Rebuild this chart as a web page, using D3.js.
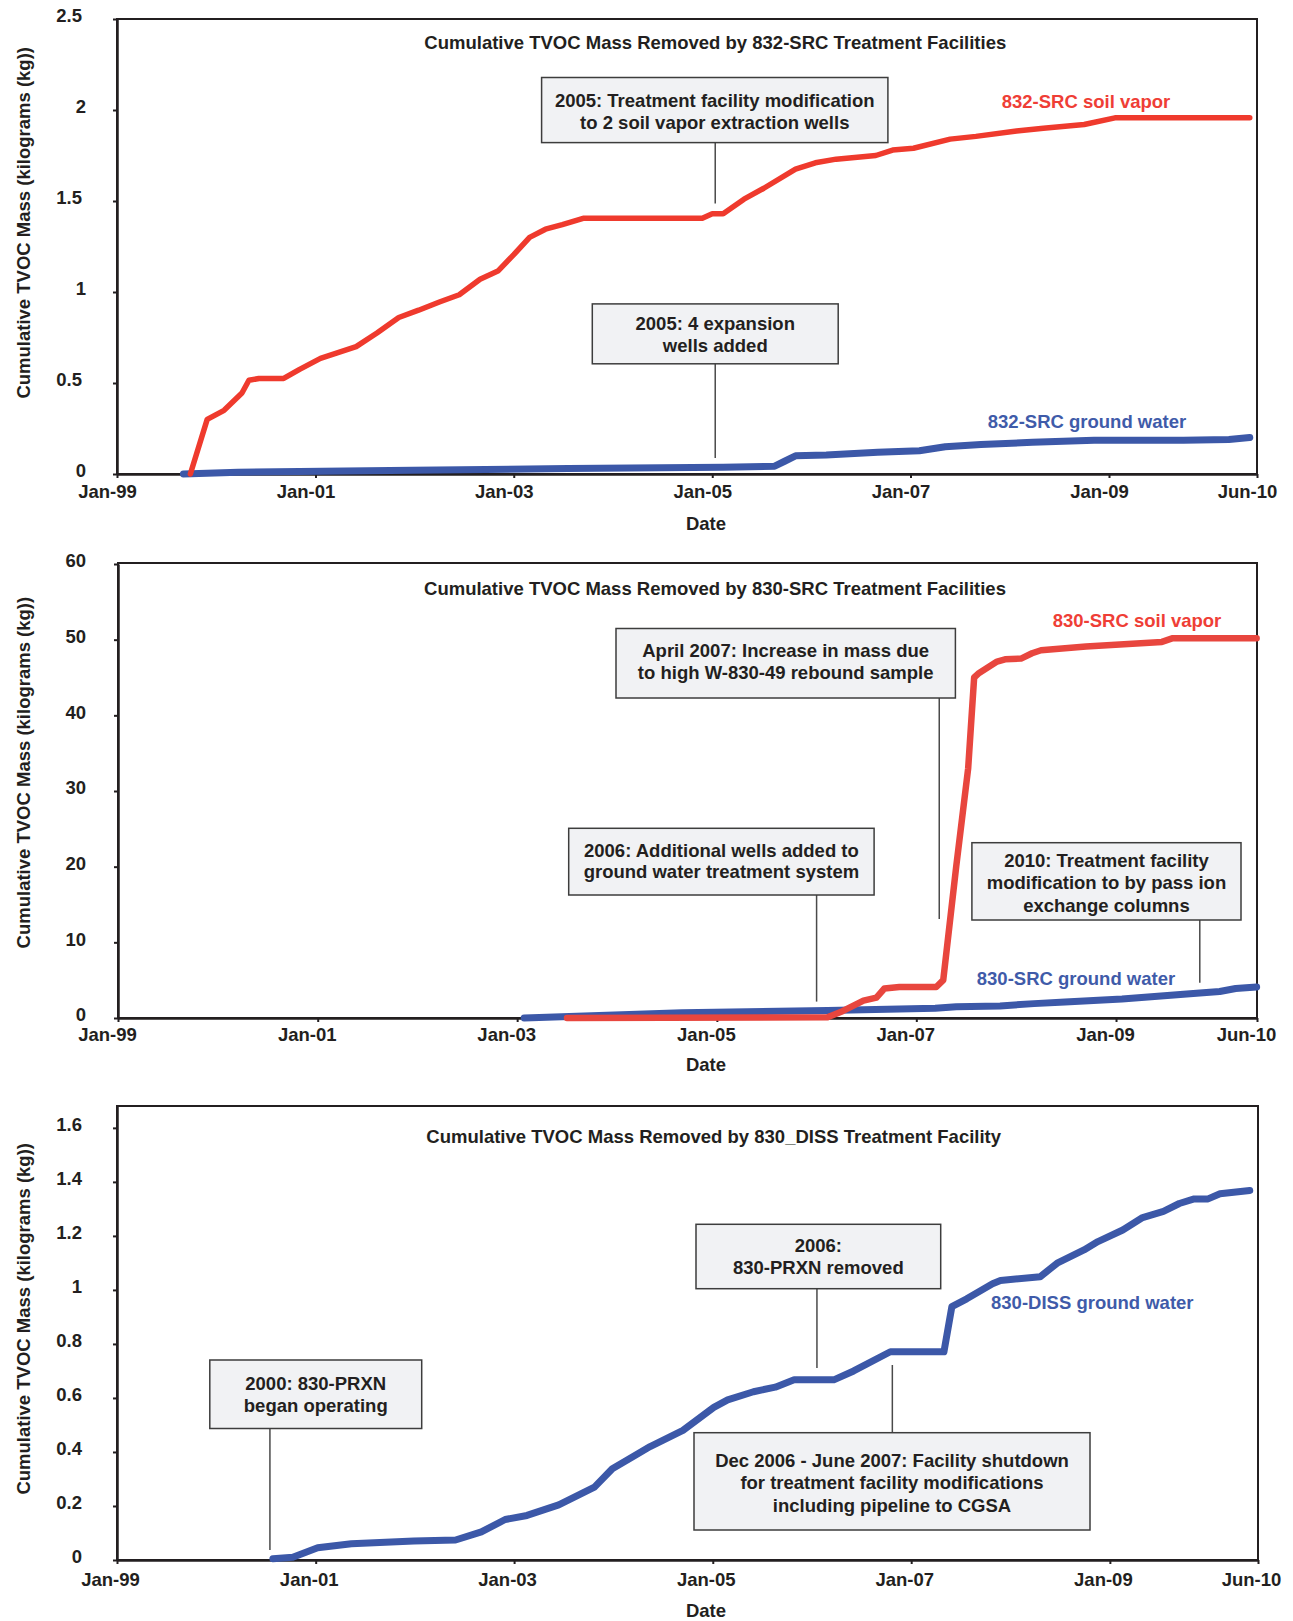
<!DOCTYPE html>
<html>
<head>
<meta charset="utf-8">
<script src="https://cdn.jsdelivr.net/npm/d3@7"></script>
<style>
  body { margin: 0; background: #fff; }
  svg { display: block; font-family: "Liberation Sans", Arial, Helvetica, sans-serif; font-weight: bold; }
</style>
</head>
<body>
<svg id="chart" width="1293" height="1621"></svg>
<script>
// ---------------------------------------------------------------
// Data: [decimal year, cumulative TVOC mass removed (kg)]
// ---------------------------------------------------------------
const soilVapor832 = [
  [1999.74, 0], [1999.91, 0.30], [2000.08, 0.35], [2000.26, 0.445], [2000.33, 0.515],
  [2000.43, 0.525], [2000.68, 0.525], [2000.84, 0.575], [2001.05, 0.635], [2001.41, 0.70],
  [2001.62, 0.775], [2001.84, 0.86], [2002.04, 0.90], [2002.25, 0.945], [2002.45, 0.985],
  [2002.66, 1.07], [2002.84, 1.115], [2003.00, 1.205], [2003.16, 1.30], [2003.32, 1.345],
  [2003.49, 1.37], [2003.70, 1.405], [2004.90, 1.405], [2005.00, 1.43], [2005.11, 1.43],
  [2005.32, 1.51], [2005.52, 1.57], [2005.84, 1.675], [2006.04, 1.71], [2006.25, 1.73],
  [2006.65, 1.75], [2006.82, 1.78], [2007.03, 1.79], [2007.40, 1.84], [2007.66, 1.855],
  [2008.07, 1.885], [2008.34, 1.90], [2008.75, 1.92], [2009.06, 1.957], [2010.42, 1.957]
];
const groundWater832 = [
  [1999.67, 0], [2000.22, 0.01], [2001.98, 0.02], [2003.55, 0.03], [2005.11, 0.037],
  [2005.63, 0.043], [2005.73, 0.07], [2005.84, 0.10], [2006.15, 0.105], [2006.67, 0.12],
  [2007.09, 0.128], [2007.35, 0.15], [2007.71, 0.162], [2008.23, 0.174], [2008.85, 0.185],
  [2009.75, 0.186], [2010.21, 0.19], [2010.42, 0.20]
];
const soilVapor830 = [
  [2003.50, 0], [2006.11, 0.1], [2006.26, 0.9], [2006.47, 2.3], [2006.60, 2.7],
  [2006.68, 3.9], [2006.83, 4.1], [2007.20, 4.1], [2007.27, 5.0], [2007.40, 20],
  [2007.52, 33], [2007.58, 45.0], [2007.63, 45.6], [2007.81, 47.1], [2007.89, 47.4],
  [2008.05, 47.5], [2008.16, 48.2], [2008.25, 48.6], [2008.70, 49.1], [2009.46, 49.7],
  [2009.57, 50.2], [2010.41, 50.2]
];
const groundWater830 = [
  [2003.07, 0], [2004.65, 0.7], [2006.11, 1.0], [2007.19, 1.3], [2007.40, 1.5],
  [2007.84, 1.6], [2008.18, 1.9], [2008.49, 2.1], [2009.06, 2.5], [2009.84, 3.3],
  [2010.04, 3.5], [2010.20, 3.9], [2010.41, 4.1]
];
const groundWaterDiss = [
  [2000.57, 0.005], [2000.77, 0.01], [2001.02, 0.045], [2001.36, 0.06], [2001.99, 0.07],
  [2002.41, 0.074], [2002.67, 0.104], [2002.91, 0.15], [2003.13, 0.165], [2003.45, 0.204],
  [2003.81, 0.27], [2003.99, 0.338], [2004.23, 0.39], [2004.37, 0.42], [2004.70, 0.48],
  [2005.01, 0.565], [2005.15, 0.593], [2005.41, 0.623], [2005.63, 0.64], [2005.82, 0.667],
  [2006.22, 0.667], [2006.42, 0.70], [2006.79, 0.771], [2007.33, 0.771], [2007.41, 0.938],
  [2007.56, 0.967], [2007.82, 1.023], [2007.90, 1.035], [2008.30, 1.049], [2008.47, 1.099],
  [2008.74, 1.148], [2008.88, 1.179], [2009.13, 1.222], [2009.33, 1.268], [2009.54, 1.291],
  [2009.70, 1.32], [2009.85, 1.337], [2009.99, 1.337], [2010.11, 1.356], [2010.41, 1.368]
];

// Axis ticks
const yTicks832 = [0, 0.5, 1, 1.5, 2, 2.5];
const yTicks830 = [0, 10, 20, 30, 40, 50, 60];
const yTicksDiss = [0, 0.2, 0.4, 0.6, 0.8, 1, 1.2, 1.4, 1.6];
const xTickYears = [1999, 2001, 2003, 2005, 2007, 2009];

// Text
const titles = [
  "Cumulative TVOC Mass Removed by 832-SRC Treatment Facilities",
  "Cumulative TVOC Mass Removed by 830-SRC Treatment Facilities",
  "Cumulative TVOC Mass Removed by 830_DISS Treatment Facility"
];
const yTitle = "Cumulative TVOC Mass (kilograms (kg))";
const xTitle = "Date";

// decimal year -> Date
function fromYear(v) {
  const yr = Math.floor(v);
  const a = new Date(yr, 0, 1), b = new Date(yr + 1, 0, 1);
  return new Date(+a + (v - yr) * (b - a));
}

const INK = "#231f20";
const RED = "#ef3a2d";
const RED2 = "#e8463e";
const BLUE = "#3c58a8";
const FS = 18.5;

const svg = d3.select("#chart");
svg.append("rect").attr("width", 1293).attr("height", 1621).attr("fill", "#fff");

function drawPanel(p) {
  const x = d3.scaleTime().domain([new Date(1999, 0, 1), p.xEnd]).range([p.left, p.right]);
  const y = d3.scaleLinear().domain([0, p.yMax]).range([p.bottom, p.top]);
  const g = svg.append("g");

  // plot frame
  g.append("rect")
    .attr("x", p.left).attr("y", p.frameTop)
    .attr("width", p.right - p.left).attr("height", p.bottom - p.frameTop)
    .attr("fill", "none").attr("stroke", INK).attr("stroke-width", 2);

  // x axis
  const xTicks = xTickYears.map(yr => new Date(yr, 0, 1)).concat([p.xEnd]);
  const xa = g.append("g")
    .attr("transform", `translate(0,${p.bottom})`)
    .call(d3.axisBottom(x).tickValues(xTicks).tickFormat(d3.timeFormat("%b-%y"))
      .tickSize(4).tickSizeOuter(0));
  xa.attr("font-family", null).attr("font-size", null);
  xa.select(".domain").attr("stroke", INK).attr("stroke-width", 2.5);
  xa.selectAll(".tick line").attr("stroke", INK).attr("stroke-width", 2);
  xa.selectAll(".tick text")
    .attr("fill", INK).attr("font-size", FS)
    .attr("x", p.xLabelDx).attr("y", p.xLabelBase).attr("dy", null);

  // y axis
  const ya = g.append("g")
    .attr("transform", `translate(${p.left},0)`)
    .call(d3.axisLeft(y).tickValues(p.yTicks).tickFormat(d => String(d))
      .tickSize(4).tickSizeOuter(0));
  ya.attr("font-family", null).attr("font-size", null);
  ya.select(".domain").attr("stroke", INK).attr("stroke-width", 2.5);
  ya.selectAll(".tick line").attr("stroke", INK).attr("stroke-width", 2);
  ya.selectAll(".tick text")
    .attr("fill", INK).attr("font-size", FS)
    .attr("x", d => p.yLabelRight(d) - p.left)
    .attr("y", -3).attr("dy", "0.32em");

  // titles
  g.append("text").attr("x", p.titleX).attr("y", p.titleY)
    .attr("text-anchor", "middle").attr("font-size", FS).attr("fill", INK).text(p.title);
  g.append("text").attr("x", 706).attr("y", p.dateY)
    .attr("text-anchor", "middle").attr("font-size", FS).attr("fill", INK).text(xTitle);
  g.append("text")
    .attr("transform", `translate(29.5,${p.yTitleY}) rotate(-90)`)
    .attr("text-anchor", "middle").attr("font-size", FS).attr("fill", INK).text(yTitle);

  // annotation boxes with leader lines
  p.notes.forEach(n => {
    const [x0, y0, x1, y1] = n.box;
    const lx = x(fromYear(n.leader.at));
    g.append("line")
      .attr("x1", lx).attr("x2", lx).attr("y1", n.leader.y0).attr("y2", n.leader.y1)
      .attr("stroke", "#4a4a4a").attr("stroke-width", 1.5);
    g.append("rect").attr("x", x0).attr("y", y0).attr("width", x1 - x0).attr("height", y1 - y0)
      .attr("fill", "#f1f2f4").attr("stroke", "#3d3d3d").attr("stroke-width", 1.5);
    n.lines.forEach((t, i) => {
      g.append("text").attr("x", (x0 + x1) / 2).attr("y", n.base + i * n.lead)
        .attr("text-anchor", "middle").attr("font-size", FS).attr("fill", INK).text(t);
    });
  });

  // data lines
  const line = d3.line().x(d => x(fromYear(d[0]))).y(d => y(d[1]));
  p.series.forEach(s => {
    g.append("path").datum(s.data)
      .attr("d", line).attr("fill", "none")
      .attr("stroke", s.color).attr("stroke-width", s.width)
      .attr("stroke-linejoin", "round").attr("stroke-linecap", "round");
    g.append("text").attr("x", s.labelX).attr("y", s.labelY)
      .attr("text-anchor", "middle").attr("font-size", FS).attr("fill", s.textColor).text(s.name);
  });
}

// Panel 1: 832-SRC
drawPanel({
  left: 117, right: 1257, top: 19, frameTop: 19, bottom: 474,
  yMax: 2.5, yTicks: yTicks832, xEnd: new Date(2010, 5, 30),
  xLabelDx: -10, xLabelBase: 24,
  yLabelRight: d => Number.isInteger(d) ? 86 : 82,
  title: titles[0], titleX: 715.3, titleY: 49.3, dateY: 530, yTitleY: 222.8,
  notes: [
    { box: [541.6, 77.5, 887.9, 142.6], base: 106.8, lead: 22,
      lines: ["2005: Treatment facility modification", "to 2 soil vapor extraction wells"],
      leader: { at: 2005.03, y0: 142.6, y1: 203.6 } },
    { box: [592.3, 303.9, 838.2, 363.8], base: 330.3, lead: 21.5,
      lines: ["2005: 4 expansion", "wells added"],
      leader: { at: 2005.03, y0: 363.8, y1: 458 } }
  ],
  series: [
    { name: "832-SRC ground water", data: groundWater832, color: BLUE, width: 7,
      textColor: "#3f5ba9", labelX: 1087, labelY: 427.5 },
    { name: "832-SRC soil vapor", data: soilVapor832, color: RED, width: 5.5,
      textColor: "#ef3e36", labelX: 1086, labelY: 108 }
  ]
});

// Panel 2: 830-SRC
drawPanel({
  left: 118, right: 1257, top: 564, frameTop: 563, bottom: 1018,
  yMax: 60, yTicks: yTicks830, xEnd: new Date(2010, 5, 1),
  xLabelDx: -11, xLabelBase: 23,
  yLabelRight: () => 86,
  title: titles[1], titleX: 715, titleY: 594.7, dateY: 1070.8, yTitleY: 772.6,
  notes: [
    { box: [616, 628.5, 955.4, 698], base: 656.7, lead: 22.6,
      lines: ["April 2007: Increase in mass due", "to high W-830-49 rebound sample"],
      leader: { at: 2007.23, y0: 698, y1: 919 } },
    { box: [568.7, 828.3, 874.1, 895], base: 856.7, lead: 21.6,
      lines: ["2006: Additional wells added to", "ground water treatment system"],
      leader: { at: 2006.0, y0: 895, y1: 1001.6 } },
    { box: [971.9, 842.7, 1241, 920], base: 866.7, lead: 22.5,
      lines: ["2010: Treatment facility", "modification to by pass ion", "exchange columns"],
      leader: { at: 2009.84, y0: 920, y1: 982.7 } }
  ],
  series: [
    { name: "830-SRC ground water", data: groundWater830, color: BLUE, width: 7,
      textColor: "#3f5ba9", labelX: 1076, labelY: 985 },
    { name: "830-SRC soil vapor", data: soilVapor830, color: RED2, width: 6.5,
      textColor: "#ef3e36", labelX: 1137, labelY: 627.3 }
  ]
});

// Panel 3: 830-DISS
drawPanel({
  left: 117, right: 1258, top: 1106, frameTop: 1106, bottom: 1560,
  yMax: 1.681, yTicks: yTicksDiss, xEnd: new Date(2010, 5, 30),
  xLabelDx: -7, xLabelBase: 26,
  yLabelRight: () => 82,
  title: titles[2], titleX: 713.7, titleY: 1142.6, dateY: 1616.5, yTitleY: 1318.8,
  notes: [
    { box: [209.8, 1360, 421.7, 1428.5], base: 1389.6, lead: 22.7,
      lines: ["2000: 830-PRXN", "began operating"],
      leader: { at: 2000.54, y0: 1428.5, y1: 1550 } },
    { box: [696, 1224.3, 940.7, 1288.7], base: 1252.3, lead: 21.7,
      lines: ["2006:", "830-PRXN removed"],
      leader: { at: 2006.05, y0: 1288.7, y1: 1368 } },
    { box: [694, 1432.7, 1090, 1530], base: 1466.7, lead: 22.5,
      lines: ["Dec 2006 - June 2007: Facility shutdown", "for treatment facility modifications", "including pipeline to CGSA"],
      leader: { at: 2006.81, y0: 1365, y1: 1432.7 } }
  ],
  series: [
    { name: "830-DISS ground water", data: groundWaterDiss, color: BLUE, width: 7,
      textColor: "#3f5ba9", labelX: 1092.3, labelY: 1309.3 }
  ]
});
</script>
</body>
</html>
